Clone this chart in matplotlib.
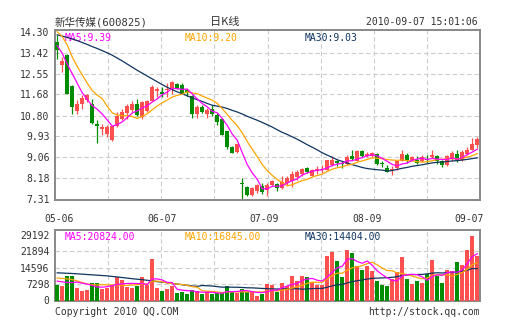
import numpy as np
import pandas as pd
import matplotlib
matplotlib.use("Agg")
import matplotlib.pyplot as plt

# daily candles 2010-05-06 .. 2010-09-07 (85 trading days)
opens = [13.88, 12.92, 13.31, 12.02, 10.99, 11.26, 11.44, 11.27, 10.44, 10.22,
         10.02, 9.77, 10.35, 10.67, 10.91, 11.05, 11.27, 10.74, 10.98, 11.40,
         11.82, 11.78, 11.85, 11.96, 12.10, 12.06, 11.86, 11.61, 10.88, 11.15,
         10.87, 11.08, 10.84, 10.66, 10.14, 9.49, 9.27, 7.98, 7.80, 7.49,
         7.63, 7.87, 7.70, 7.91, 7.95, 7.77, 7.98, 8.05, 8.23, 8.37,
         8.61, 8.29, 8.47, 8.51, 8.54, 8.74, 8.88, 8.81, 8.78, 9.09,
         8.92, 9.30, 9.09, 9.09, 9.20, 8.79, 8.60, 8.53, 8.60, 8.92,
         9.16, 8.95, 8.95, 8.88, 8.98, 9.05, 9.12, 8.91, 8.72, 9.02,
         9.20, 8.95, 9.20, 9.37, 9.58]
highs = [14.16, 13.24, 13.35, 12.06, 11.44, 11.64, 11.71, 11.51, 10.60, 10.44,
         10.40, 10.38, 10.95, 11.09, 11.30, 11.40, 11.51, 11.41, 11.44, 12.06,
         11.99, 11.99, 12.17, 12.24, 12.14, 12.17, 11.90, 11.64, 11.22, 11.22,
         11.12, 11.22, 10.91, 10.70, 10.17, 9.52, 9.63, 8.19, 7.84, 7.81,
         7.95, 7.98, 7.98, 8.12, 7.98, 8.26, 8.26, 8.47, 8.54, 8.61,
         8.64, 8.57, 8.68, 8.75, 8.96, 9.09, 8.95, 8.88, 9.16, 9.34,
         9.37, 9.37, 9.26, 9.27, 9.23, 8.91, 8.74, 8.67, 8.95, 9.37,
         9.23, 9.09, 9.09, 9.16, 9.16, 9.37, 9.16, 8.95, 9.16, 9.30,
         9.37, 9.37, 9.47, 9.86, 9.90]
lows = [13.16, 12.62, 11.70, 10.88, 10.88, 11.06, 11.37, 10.45, 9.66, 10.00,
        9.91, 9.75, 10.30, 10.63, 10.67, 10.96, 10.80, 10.67, 10.96, 11.40,
        11.58, 11.58, 11.58, 11.68, 11.89, 11.72, 11.60, 10.70, 10.70, 10.91,
        10.70, 10.77, 10.42, 9.98, 9.40, 9.24, 9.24, 7.30, 7.45, 7.45,
        7.56, 7.53, 7.45, 7.84, 7.63, 7.73, 7.91, 7.81, 8.12, 8.29,
        8.40, 8.26, 8.37, 8.40, 8.51, 8.67, 8.67, 8.60, 8.74, 8.95,
        8.88, 9.06, 9.06, 9.06, 8.74, 8.63, 8.44, 8.30, 8.53, 8.91,
        8.81, 8.92, 8.77, 8.84, 8.81, 9.02, 8.78, 8.63, 8.67, 8.92,
        8.84, 8.88, 9.16, 9.34, 9.44]
closes = [13.54, 13.07, 11.71, 11.16, 11.27, 11.55, 11.64, 10.47, 10.37, 10.30,
          10.30, 10.35, 10.77, 10.95, 11.19, 11.26, 10.81, 11.37, 11.40, 11.99,
          11.89, 11.71, 11.89, 12.20, 11.92, 11.72, 11.80, 10.87, 11.16, 10.95,
          11.05, 10.87, 10.54, 10.00, 9.49, 9.24, 9.59, 7.94, 7.49, 7.77,
          7.91, 7.59, 7.91, 8.05, 7.77, 8.01, 8.19, 8.37, 8.43, 8.57,
          8.44, 8.54, 8.57, 8.57, 8.93, 8.95, 8.81, 8.77, 9.05, 8.98,
          9.30, 9.09, 9.19, 9.23, 8.77, 8.77, 8.46, 8.56, 8.91, 9.19,
          8.95, 9.05, 8.81, 9.06, 8.95, 9.16, 8.92, 8.72, 9.09, 9.23,
          8.88, 9.26, 9.37, 9.62, 9.82]
volumes = [6831, 6534, 10989, 10989, 5643, 4307, 4604, 7722, 7722, 5198,
           5495, 6831, 10544, 8910, 6089, 5643, 6534, 10395, 6831, 18563,
           5643, 4158, 5049, 6534, 3416, 3861, 2970, 4604, 4158, 2970,
           3564, 2970, 3119, 3564, 6386, 3564, 3416, 5049, 3564, 3861,
           2079, 2970, 7128, 6831, 3861, 7722, 6534, 10989, 8613, 10989,
           10544, 8019, 6831, 6831, 19751, 21533, 17523, 10395, 22424, 21087,
           15296, 13514, 15444, 13068, 8613, 6831, 6534, 9504, 12474, 19305,
           9504, 7425, 8613, 7722, 11583, 17969, 10989, 7871, 13514, 13217,
           17078, 15741, 22424, 28809, 19899]

# moving-average values at the start of the window
# (they depend on days before 05-06)
ma5_head = [13.72, 13.40, 12.95, 12.55]
ma10_head = [14.30, 14.10, 13.75, 13.25, 12.85, 12.50, 12.15, 11.85, 11.65]
ma30_head = [14.17, 14.12, 14.06, 14.00, 13.93, 13.85, 13.77, 13.68, 13.60, 13.51,
             13.42, 13.32, 13.20, 13.08, 12.95, 12.82, 12.69, 12.57, 12.45, 12.33,
             12.21, 12.09, 11.98, 11.88, 11.79, 11.71, 11.62, 11.54, 11.46]
vma5_head = [8600, 8300, 8000, 8000]
vma10_head = [10000, 9800, 9600, 9300, 8700, 8000, 7300, 7000, 6900]
vma30_head = [12300, 12200, 12100, 12000, 11850, 11700, 11550, 11400, 11250, 11100,
              10950, 10700, 10450, 10200, 9950, 9700, 9450, 9250, 9000, 8700,
              8400, 8150, 7900, 7600, 7300, 7000, 6700, 6450, 6300]

price_ticks = [14.30, 13.42, 12.55, 11.68, 10.80, 9.93, 9.06, 8.18, 7.31]
vol_ticks = [0, 7298, 14596, 21894, 29192]
date_labels = ["05-06", "06-07", "07-09", "08-09", "09-07"]

RED = "#ff5050"
GREEN = "#008c00"
C_MA5 = "#ff00ff"
C_MA10 = "#ffa500"
C_MA30 = "#0f3460"
FRAME = "#888888"
GRIDC = "#cccccc"
TXT = "#333333"
MONO = "DejaVu Sans Mono"


def with_ma(values, head, n):
    rolled = pd.Series(values, dtype=float).rolling(n).mean().to_numpy()
    return np.concatenate([head, rolled[len(head):]])


o = np.array(opens)
c = np.array(closes)
x = np.arange(len(c))
cols = np.where(c >= o, RED, GREEN)

fig = plt.figure(figsize=(5.05, 3.30), dpi=100)
ax1 = fig.add_axes([55 / 505, 130 / 330, 425 / 505, 169.7 / 330])
ax2 = fig.add_axes([55 / 505, 29.5 / 330, 425 / 505, 70.2 / 330])

xmin, xmax = -0.44, 84.56
for ax in (ax1, ax2):
    ax.set_xlim(xmin, xmax)
    for k in range(1, 8):
        ax.axvline(xmin + k * (xmax - xmin) / 8, color=GRIDC, lw=0.8,
                   ls=(0, (4, 2.5)), zorder=0)
    for s in ax.spines.values():
        s.set_color(FRAME)
        s.set_linewidth(1.4)
    ax.tick_params(length=0, labelsize=7, labelcolor=TXT, pad=4)

# price panel
ax1.set_ylim(7.27, 14.36)
for t in price_ticks[1:-1]:
    ax1.axhline(t, color=GRIDC, lw=0.8, ls=(0, (4, 2.5)), zorder=0)
ax1.vlines(x, lows, highs, colors=cols, lw=0.9, zorder=2)
ax1.bar(x, np.maximum(np.abs(c - o), 0.03), bottom=np.minimum(o, c),
        width=0.8, color=cols, zorder=3)
ax1.plot(x, with_ma(closes, ma30_head, 30), color=C_MA30, lw=0.9, zorder=4)
ax1.plot(x, with_ma(closes, ma10_head, 10), color=C_MA10, lw=0.9, zorder=4)
ax1.plot(x, with_ma(closes, ma5_head, 5), color=C_MA5, lw=0.9, zorder=4)
ax1.set_yticks(price_ticks, [f"{t:.2f}" for t in price_ticks], fontfamily=MONO)
ax1.set_xticks(np.linspace(0.4, 82.4, 5), date_labels, fontfamily=MONO)
ax1.tick_params(axis="x", pad=10)

ax1.text(10 / 425, 0.955, "MA5:9.39", color=C_MA5, transform=ax1.transAxes,
         fontsize=7, family=MONO, va="center")
ax1.text(130 / 425, 0.955, "MA10:9.20", color=C_MA10, transform=ax1.transAxes,
         fontsize=7, family=MONO, va="center")
ax1.text(250 / 425, 0.955, "MA30:9.03", color=C_MA30, transform=ax1.transAxes,
         fontsize=7, family=MONO, va="center")

# volume panel
ax2.set_ylim(0, 31200)
for t in vol_ticks[1:4]:
    ax2.axhline(t, color=GRIDC, lw=0.8, ls=(0, (4, 2.5)), zorder=0)
ax2.bar(x, volumes, width=0.8, color=cols, zorder=3)
ax2.plot(x, with_ma(volumes, vma30_head, 30), color=C_MA30, lw=0.9, zorder=4)
ax2.plot(x, with_ma(volumes, vma10_head, 10), color=C_MA10, lw=0.9, zorder=4)
ax2.plot(x, with_ma(volumes, vma5_head, 5), color=C_MA5, lw=0.9, zorder=4)
ax2.set_yticks(vol_ticks, [str(t) for t in vol_ticks], fontfamily=MONO)
ax2.set_xticks([])

ax2.text(10 / 425, 0.9, "MA5:20824.00", color=C_MA5, transform=ax2.transAxes,
         fontsize=7, family=MONO, va="center")
ax2.text(130 / 425, 0.9, "MA10:16845.00", color=C_MA10, transform=ax2.transAxes,
         fontsize=7, family=MONO, va="center")
ax2.text(250 / 425, 0.9, "MA30:14404.00", color=C_MA30, transform=ax2.transAxes,
         fontsize=7, family=MONO, va="center")

# header and footer
fig.text(55 / 505, 1 - 22 / 330, "新华传媒(600825)", color=TXT, fontsize=7.6,
         family=[MONO, "Noto Sans CJK SC"], va="center")
fig.text(225 / 505, 1 - 22 / 330, "日K线", color=TXT, fontsize=8,
         family=["Noto Sans CJK SC"], va="center", ha="center")
fig.text(478 / 505, 1 - 22 / 330, "2010-09-07 15:01:06", color=TXT, fontsize=7,
         family=MONO, va="center", ha="right")
fig.text(55 / 505, 1 - 312 / 330, "Copyright 2010 QQ.COM", color=TXT, fontsize=7,
         family=MONO, va="center")
fig.text(480 / 505, 1 - 312 / 330, "http://stock.qq.com", color=TXT, fontsize=7,
         family=MONO, va="center", ha="right")

fig.savefig("out.png", dpi=100, facecolor="white")
